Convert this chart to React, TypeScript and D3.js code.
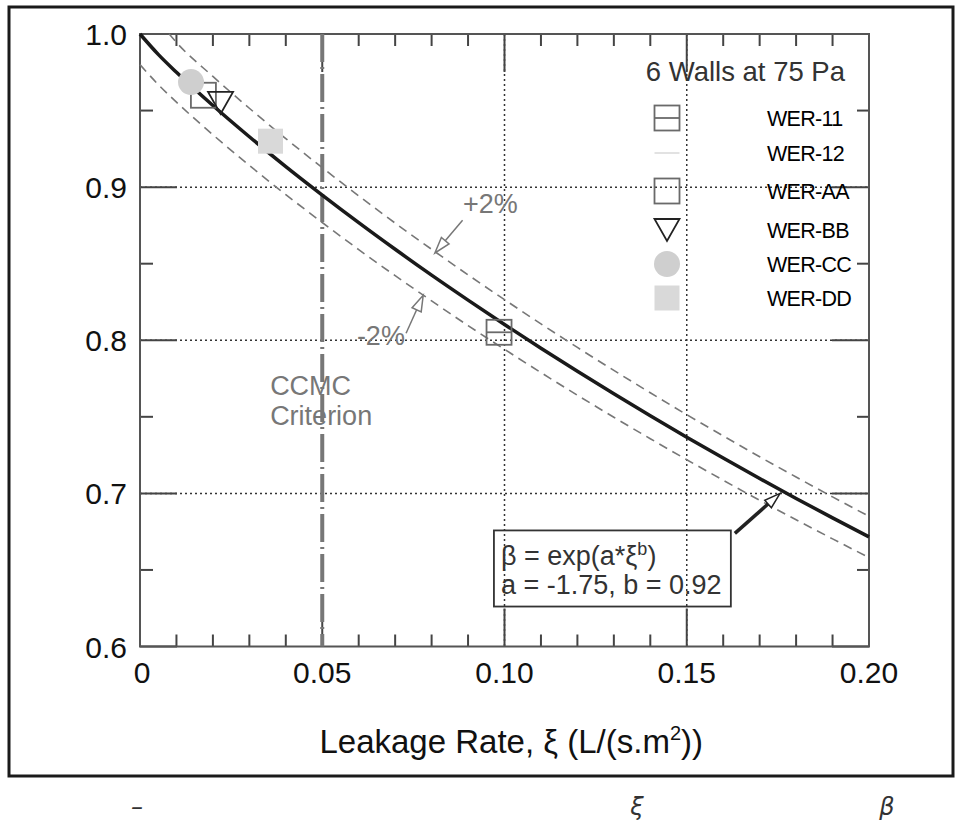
import React from "react";
import * as d3 from "d3";

// fitted curve beta = exp(a*xi^b)
const xiFit = [0, 0.005, 0.01, 0.02, 0.03, 0.04, 0.05, 0.06, 0.07, 0.08, 0.09, 0.1, 0.11, 0.12, 0.13, 0.14, 0.15, 0.16, 0.17, 0.18, 0.19, 0.2];
const betaFit = [1.0, 0.9867, 0.975, 0.9533, 0.9329, 0.9134, 0.8948, 0.8768, 0.8594, 0.8425, 0.8262, 0.8103, 0.7948, 0.7797, 0.765, 0.7507, 0.7367, 0.7231, 0.7097, 0.6967, 0.684, 0.6716];

const xiUpper = [0.008, 0.01, 0.02, 0.03, 0.04, 0.05, 0.06, 0.07, 0.08, 0.09, 0.1, 0.11, 0.12, 0.13, 0.14, 0.15, 0.16, 0.17, 0.18, 0.19, 0.2];
const betaUpper = [1.0, 0.9945, 0.9723, 0.9515, 0.9317, 0.9127, 0.8943, 0.8765, 0.8594, 0.8427, 0.8265, 0.8107, 0.7953, 0.7803, 0.7657, 0.7514, 0.7375, 0.7239, 0.7107, 0.6977, 0.685];

const xiLower = [0, 0.005, 0.01, 0.02, 0.03, 0.04, 0.05, 0.06, 0.07, 0.08, 0.09, 0.1, 0.11, 0.12, 0.13, 0.14, 0.15, 0.16, 0.17, 0.18, 0.19, 0.2];
const betaLower = [0.98, 0.967, 0.9555, 0.9342, 0.9142, 0.8951, 0.8769, 0.8592, 0.8422, 0.8257, 0.8096, 0.7941, 0.7789, 0.7641, 0.7497, 0.7357, 0.722, 0.7086, 0.6955, 0.6828, 0.6703, 0.6581];

// measured walls
const wallNames = ["WER-11", "WER-12", "WER-AA", "WER-BB", "WER-CC", "WER-DD"];
const wallXi = [0.0985, null, 0.0174, 0.0221, 0.014, 0.0358];
const wallBeta = [0.8052, null, 0.96, 0.955, 0.9686, 0.93];

const xMajor = [0, 0.05, 0.1, 0.15, 0.2];
const xMajorLabels = ["0", "0.05", "0.10", "0.15", "0.20"];
const yMajor = [0.6, 0.7, 0.8, 0.9, 1.0];
const yMajorLabels = ["0.6", "0.7", "0.8", "0.9", "1.0"];
const xGrid = [0.1, 0.15];
const yGrid = [0.7, 0.8, 0.9];
const criterion = 0.05;

const FONT = "'Liberation Sans', Arial, Helvetica, sans-serif";

const x = d3.scaleLinear().domain([0, 0.2]).range([140, 869]);
const y = d3.scaleLinear().domain([0.6, 1.0]).range([646.5, 34]);

const xMinor = d3.range(0, 0.2001, 0.01).filter(v => !xMajor.some(m => Math.abs(m - v) < 1e-6));
const yMinor = d3.range(0.65, 1.0, 0.1);

function Marker({ kind, cx, cy }: { kind: number; cx: number; cy: number }) {
  const s = 12.5;
  if (kind === 0) {
    return (
      <g fill="none" stroke="#6a6a6a" strokeWidth={1.8}>
        <rect x={cx - s} y={cy - s} width={2 * s} height={2 * s} />
        <line x1={cx - s} x2={cx + s} y1={cy} y2={cy} />
      </g>
    );
  }
  if (kind === 1) {
    return <line x1={cx - s} x2={cx + s} y1={cy} y2={cy} stroke="#d8d8d8" strokeWidth={1.5} />;
  }
  if (kind === 2) {
    return <rect x={cx - s} y={cy - s} width={2 * s} height={2 * s} fill="none" stroke="#6a6a6a" strokeWidth={1.8} />;
  }
  if (kind === 3) {
    return (
      <path
        d={`M${cx - s},${cy - 11} L${cx + s},${cy - 11} L${cx},${cy + 11} Z`}
        fill="none"
        stroke="#222"
        strokeWidth={1.8}
      />
    );
  }
  if (kind === 4) {
    return <circle cx={cx} cy={cy} r={13} fill="#cfcfcf" />;
  }
  return <rect x={cx - s} y={cy - s} width={2 * s} height={2 * s} fill="#d9d9d9" />;
}

function Arrow({ from, to, color, width }: { from: [number, number]; to: [number, number]; color: string; width: number }) {
  const x1 = x(from[0]), y1 = y(from[1]);
  const x2 = x(to[0]), y2 = y(to[1]);
  const ang = Math.atan2(y2 - y1, x2 - x1);
  const len = 16, half = 5;
  const bx = x2 - len * Math.cos(ang), by = y2 - len * Math.sin(ang);
  const px = -Math.sin(ang) * half, py = Math.cos(ang) * half;
  return (
    <g>
      <line x1={x1} y1={y1} x2={bx} y2={by} stroke={color} strokeWidth={width} />
      <path d={`M${x2},${y2} L${bx + px},${by + py} L${bx - px},${by - py} Z`} fill="#fff" stroke={color} strokeWidth={1.5} />
    </g>
  );
}

export default function App() {
  const line = d3.line<[number, number]>().x(d => x(d[0])).y(d => y(d[1])).curve(d3.curveMonotoneX);
  const fit = line(xiFit.map((v, i) => [v, betaFit[i]]));
  const up = line(xiUpper.map((v, i) => [v, betaUpper[i]]));
  const lo = line(xiLower.map((v, i) => [v, betaLower[i]]));

  const [x0, x1] = x.range();
  const [y0, y1] = y.range();

  const legendRows = [118, 153, 191, 230, 264, 298];

  return (
    <svg width={962} height={825} style={{ position: "absolute", left: 0, top: 0, background: "#fff" }} fontFamily={FONT}>
      <rect x={9} y={7} width={944} height={769} fill="none" stroke="#1a1a1a" strokeWidth={3} />

      {/* grid */}
      <g stroke="#333" strokeWidth={1.5} strokeDasharray="2,3">
        {xGrid.map(v => (
          <line key={"gx" + v} x1={x(v)} x2={x(v)} y1={y1} y2={y0} />
        ))}
        {yGrid.map(v => (
          <line key={"gy" + v} x1={x0} x2={x1} y1={y(v)} y2={y(v)} />
        ))}
      </g>

      {/* ticks */}
      <g stroke="#444" strokeWidth={2}>
        {xMinor.map(v => (
          <g key={"xm" + v}>
            <line x1={x(v)} x2={x(v)} y1={y0} y2={y0 - 12} />
            <line x1={x(v)} x2={x(v)} y1={y1} y2={y1 + 12} />
          </g>
        ))}
        {xMajor.map(v => (
          <g key={"xM" + v}>
            <line x1={x(v)} x2={x(v)} y1={y0} y2={y0 - 38} />
            <line x1={x(v)} x2={x(v)} y1={y1} y2={y1 + 38} />
          </g>
        ))}
        {yMinor.map(v => (
          <g key={"ym" + v}>
            <line x1={x0} x2={x0 + 13} y1={y(v)} y2={y(v)} />
            <line x1={x1} x2={x1 - 12} y1={y(v)} y2={y(v)} />
          </g>
        ))}
        {yMajor.map(v => (
          <g key={"yM" + v}>
            <line x1={x0} x2={x0 + 37} y1={y(v)} y2={y(v)} />
            <line x1={x1} x2={x1 - 37} y1={y(v)} y2={y(v)} />
          </g>
        ))}
      </g>

      <rect x={x0} y={y1} width={x1 - x0} height={y0 - y1} fill="none" stroke="#555" strokeWidth={2} />

      {/* CCMC criterion */}
      <line x1={x(criterion)} x2={x(criterion)} y1={y1} y2={y0} stroke="#777" strokeWidth={4} strokeDasharray="28,5,2,5" />
      <text x={x(0.0357)} y={395} fontSize={27} fill="#777">CCMC</text>
      <text x={x(0.0357)} y={425} fontSize={27} fill="#777">Criterion</text>

      {/* bands and fit */}
      <path d={up ?? ""} fill="none" stroke="#777" strokeWidth={1.6} strokeDasharray="9,6" />
      <path d={lo ?? ""} fill="none" stroke="#777" strokeWidth={1.6} strokeDasharray="9,6" />
      <path d={fit ?? ""} fill="none" stroke="#1a1a1a" strokeWidth={3.5} />

      {/* data points */}
      {wallNames.map((n, i) =>
        wallXi[i] == null ? null : <Marker key={n} kind={i} cx={x(wallXi[i] as number)} cy={y(wallBeta[i] as number)} />
      )}

      {/* annotations */}
      <text x={x(0.0886)} y={y(0.883)} fontSize={27} fill="#777">+2%</text>
      <Arrow from={[0.0885, 0.8784]} to={[0.0809, 0.857]} color="#777" width={1.5} />
      <text x={x(0.0595)} y={y(0.7967)} fontSize={27} fill="#777">-2%</text>
      <Arrow from={[0.073, 0.8046]} to={[0.0777, 0.8294]} color="#777" width={1.5} />

      <Arrow from={[0.1632, 0.6739]} to={[0.1756, 0.7]} color="#222" width={3.5} />
      <rect x={x(0.0971)} y={y(0.6758)} width={x(0.1621) - x(0.0971)} height={y(0.6261) - y(0.6758)} fill="none" stroke="#333" strokeWidth={1.8} />
      <text x={x(0.0971) + 7} y={565} fontSize={27} fill="#333">
        β = exp(a*ξ<tspan dy={-10} fontSize={18}>b</tspan><tspan dy={10}>)</tspan>
      </text>
      <text x={x(0.0971) + 7} y={594} fontSize={27} fill="#333">a = -1.75, b = 0.92</text>

      {/* legend */}
      <text x={845} y={81} fontSize={27.5} fill="#333" textAnchor="end">6 Walls at 75 Pa</text>
      {wallNames.map((n, i) => (
        <g key={"lg" + n}>
          <Marker kind={i} cx={667} cy={legendRows[i]} />
          <text x={767} y={legendRows[i] + 7.5} fontSize={21.5} fill="#000" letterSpacing={-0.7}>{n}</text>
        </g>
      ))}

      {/* axis labels */}
      {xMajor.map((v, i) => (
        <text key={"xl" + v} x={x(v) + (i === 0 ? 2 : 0)} y={683} fontSize={30} fill="#111" textAnchor="middle">{xMajorLabels[i]}</text>
      ))}
      {yMajor.map((v, i) => (
        <text key={"yl" + v} x={127} y={y(v) + 11} fontSize={30} fill="#111" textAnchor="end">{yMajorLabels[i]}</text>
      ))}
      <text x={703} y={753} fontSize={33} fill="#111" textAnchor="end">
        Leakage Rate, ξ (L/(s.m<tspan dy={-13} fontSize={20}>2</tspan><tspan dy={13}>))</tspan>
      </text>

      {/* caption fragments under the frame */}
      <g fontSize={24} fontStyle="italic" fill="#333" fontFamily="'DejaVu Sans', sans-serif">
        <text x={137} y={815} textAnchor="middle">–</text>
        <text x={637} y={815} textAnchor="middle">ξ</text>
        <text x={887} y={815} textAnchor="middle">β</text>
      </g>
    </svg>
  );
}
